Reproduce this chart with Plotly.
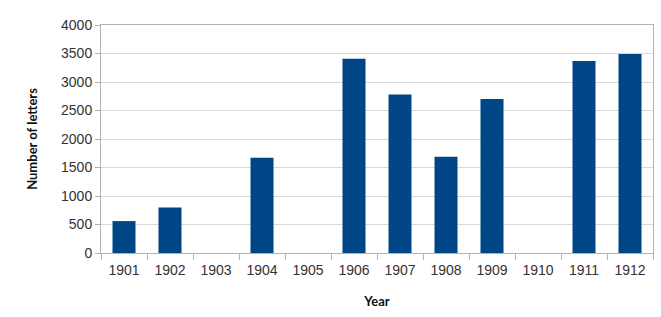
import plotly.graph_objects as go

years = ["1901", "1902", "1903", "1904", "1905", "1906", "1907", "1908", "1909", "1910", "1911", "1912"]
letters = [560, 800, 0, 1670, 0, 3410, 2780, 1690, 2700, 0, 3370, 3490]
y_ticks = [0, 500, 1000, 1500, 2000, 2500, 3000, 3500, 4000]

fig = go.Figure(go.Bar(x=years, y=letters, marker=dict(color="#004586", line=dict(width=0))))

fig.update_layout(
    width=661, height=317,
    margin=dict(l=101, r=8, t=25, b=64),
    paper_bgcolor="white", plot_bgcolor="white",
    bargap=0.5,
    showlegend=False,
    font=dict(family="Liberation Sans, Arial, sans-serif", size=14, color="#333333"),
)
fig.update_xaxes(
    type="category",
    tickson="boundaries",
    ticks="outside", ticklen=6, tickcolor="#b3b3b3",
    ticklabelstandoff=4,
    showline=True, linecolor="#b3b3b3", mirror=True,
    showgrid=False,
    title=dict(text="<b>Year</b>", font=dict(family="Lato, DejaVu Sans, sans-serif", size=13, color="#111111"), standoff=20),
)
fig.update_yaxes(
    range=[0, 4000],
    tickvals=y_ticks,
    ticks="outside", ticklen=5, tickcolor="#b3b3b3",
    showline=True, linecolor="#b3b3b3", mirror=True,
    showgrid=True, gridcolor="#d9d9d9", gridwidth=1,
    zeroline=False,
    title=dict(text="<b>Number of letters</b>", font=dict(family="Lato, DejaVu Sans, sans-serif", size=13, color="#111111"), standoff=20),
)

fig.write_html("out.html")
